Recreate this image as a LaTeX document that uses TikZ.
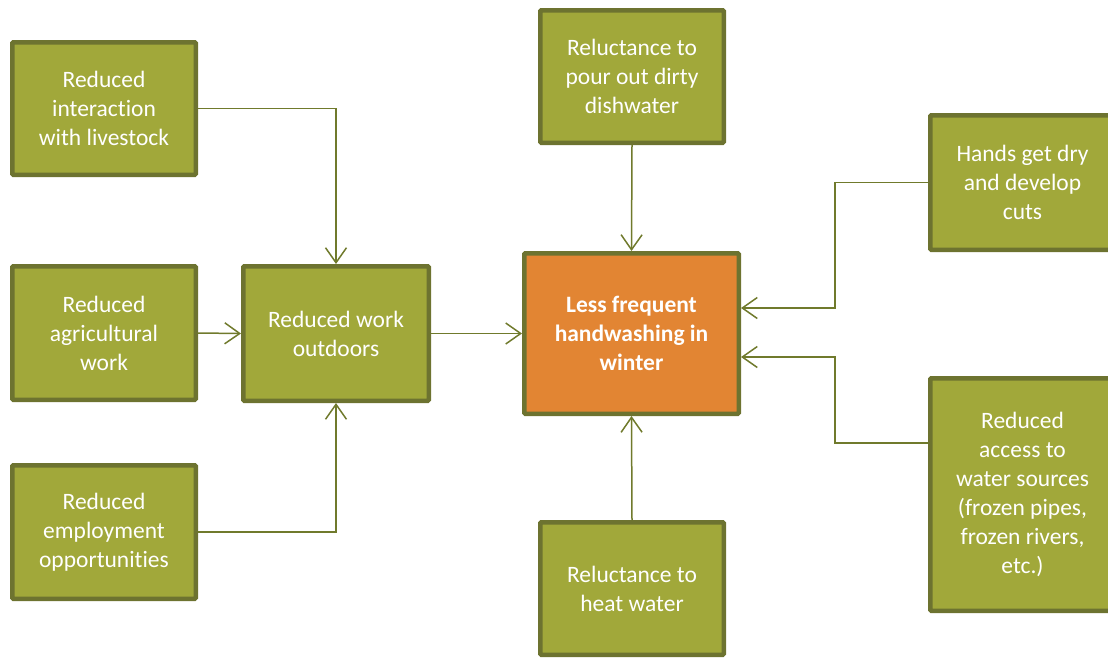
\documentclass[tikz,border=0pt]{standalone}
\usepackage{fontspec}
\setmainfont{Carlito}[Ligatures=NoCommon]
\usetikzlibrary{arrows.meta}
\definecolor{boxc}{HTML}{A1A83A}
\definecolor{bordc}{HTML}{6D7330}
\definecolor{linec}{HTML}{707A2C}
\definecolor{orangec}{HTML}{E28533}
\begin{document}
\begin{tikzpicture}[x=1pt,y=-1pt,
  box/.style={draw=bordc, line width=4.5pt, fill=boxc, text=white, align=center,
    inner sep=0pt, rounded corners=1pt, font=\fontsize{23.5}{29}\selectfont},
  conn/.style={draw=linec, line width=1.5pt, -{Straight Barb[length=15pt,width=21pt,line width=1.5pt]}},
  plain/.style={draw=linec, line width=1.5pt}]
\useasboundingbox (0,0) rectangle (1108,657);
\clip (0,0) rectangle (1108,657);
\node[box, minimum width=183.5pt, minimum height=132.5pt] (live) at (104,108.5) {Reduced\\interaction\\with livestock};
\node[box, minimum width=183.5pt, minimum height=133.5pt] (agri) at (104,333) {Reduced\\agricultural\\work};
\node[box, minimum width=183.5pt, minimum height=133.5pt] (empl) at (104,532) {Reduced\\employment\\opportunities};
\node[box, minimum width=185.5pt, minimum height=134.5pt] (work) at (336,333.5) {Reduced work\\outdoors};
\node[box, minimum width=183.5pt, minimum height=132.5pt] (dish) at (632,76.5) {Reluctance to\\pour out dirty\\dishwater};
\node[box, fill=orangec, minimum width=214.5pt, minimum height=160.5pt, font=\fontsize{23.5}{29}\selectfont\bfseries] (ctr) at (631.5,333.5) {Less frequent\\handwashing in\\winter};
\node[box, minimum width=184.5pt, minimum height=134.5pt] (hands) at (1022.5,182.5) {Hands get dry\\and develop\\cuts};
\node[box, minimum width=184.5pt, minimum height=232.5pt] (access) at (1022.5,494.5) {Reduced\\access to\\water sources\\(frozen pipes,\\frozen rivers,\\etc.)};
\node[box, minimum width=183.5pt, minimum height=132.5pt] (heat) at (632,588.5) {Reluctance to\\heat water};
\draw[conn] (live.east) -| (work.north);
\draw[conn] (agri.east) -- (work.west);
\draw[conn] (empl.east) -| (work.south);
\draw[conn] (work.east) -- (ctr.west);
\draw[conn] (dish.south) -- (ctr.north);
\draw[conn] (heat.north) -- (ctr.south);
\coordinate (hk) at ([xshift=-93pt]hands.west);
\coordinate (as) at ([yshift=51.5pt]access.west);
\coordinate (ak) at ([xshift=-93pt]as);
\draw[conn] (hands.west) -- (hk) |- ([yshift=25.5pt]ctr.east);
\draw[conn] (as) -- (ak) |- ([yshift=-23.5pt]ctr.east);
\end{tikzpicture}
\end{document}
